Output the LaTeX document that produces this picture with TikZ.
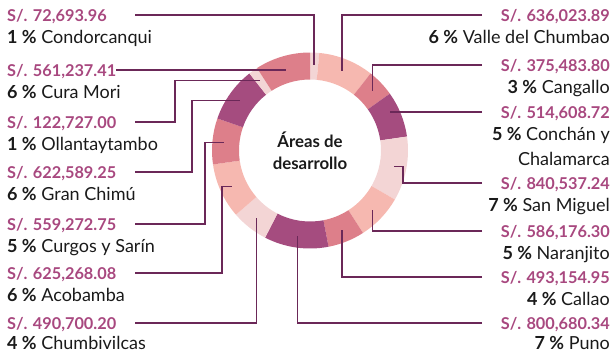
\documentclass[tikz,border=0pt]{standalone}
\usepackage{fontspec}
\setmainfont{Lato}
\usepackage{xcolor}
\usepackage{tikz}
\definecolor{ringA}{HTML}{F3D5D5}
\definecolor{ringB}{HTML}{F6B8B0}
\definecolor{ringC}{HTML}{DD7F8A}
\definecolor{ringD}{HTML}{A54C7F}
\definecolor{amt}{HTML}{A8487F}
\definecolor{leader}{HTML}{6B2858}
\definecolor{ink}{HTML}{1A1A1A}
\tikzset{
  lead/.style={draw=leader, line width=1.3bp},
  amount/.style={
    font=\fontsize{16.3bp}{19bp}\selectfont\bfseries,
    text=amt,
    inner sep=0pt,
    text height=12bp,
    text depth=0pt
  },
  place/.style={
    font=\fontsize{18bp}{21bp}\selectfont,
    text=ink,
    inner sep=0pt,
    text height=12.8bp,
    text depth=0pt
  },
  ttl/.style={
    font=\fontsize{16.8bp}{21.5bp}\selectfont\bfseries,
    text=ink,
    align=center
  }
}

\begin{document}
\begin{tikzpicture}[x=1bp, y=-1bp]
  \useasboundingbox (0,0) rectangle (614,353);

  % ring, one percent = 360/66 degrees, clockwise from the top
  \begin{scope}[shift={(310,150.5)}]
    \def\u{5.454545}
    \foreach \a/\b/\c/\n in {0/1/ringA/Con, 1/7/ringB/Val, 7/10/ringC/Can,
      10/15/ringD/Cha, 15/22/ringA/SMi, 22/27/ringB/Nar, 27/31/ringC/Cal,
      31/38/ringD/Pun, 38/42/ringA/Chu, 42/48/ringB/Aco, 48/53/ringC/Cur,
      53/59/ringD/Gra, 59/60/ringA/Oll, 60/66/ringC/Mor}{
      \pgfmathsetmacro\sa{\a*\u-90}
      \pgfmathsetmacro\ea{\b*\u-90}
      \pgfmathsetmacro\ma{(\a+\b)/2*\u-90}
      \fill[\c] (\sa:98) arc[start angle=\sa, end angle=\ea, radius=98]
        -- (\ea:71) arc[start angle=\ea, end angle=\sa, radius=71] -- cycle;
      \coordinate (p\n) at (\ma:86);
    }
    \node[ttl] (title) at (0,0) {Áreas de\\desarrollo};
  \end{scope}

  % labels on the left
  \foreach \y/\ny/\val/\pc/\name [count=\i] in {
    15/37.5/{72,693.96}/1/Condorcanqui,
    70/92.5/{561,237.41}/6/Cura Mori,
    122/144.5/{122,727.00}/1/Ollantaytambo,
    172/194.5/{622,589.25}/6/Gran Chimú,
    224/246.5/{559,272.75}/5/Curgos y Sarín,
    273/295.5/{625,268.08}/6/Acobamba,
    323/343.5/{490,700.20}/4/Chumbivilcas}{
    \node[amount, anchor=west] (lv\i) at (7,\y) {S/. \val};
    \node[place, anchor=west] (ln\i) at (7,\ny) {\textbf{\pc\ \%} \name};
  }

  % labels on the right
  \foreach \y/\ny/\val/\pc/\name [count=\i] in {
    15/37.5/{636,023.89}/6/Valle del Chumbao,
    65/87.5/{375,483.80}/3/Cangallo,
    112/134.5/{514,608.72}/5/Conchán y,
    183/205.5/{840,537.24}/7/San Miguel,
    231/253.5/{586,176.30}/5/Naranjito,
    277/299.5/{493,154.95}/4/Callao,
    323/343.5/{800,680.34}/7/Puno}{
    \node[amount, anchor=east] (rv\i) at (610,\y) {S/. \val};
    \node[place, anchor=east] (rn\i) at (610,\ny) {\textbf{\pc\ \%} \name};
  }
  \node[place, anchor=east] (rn3b) at (610,159.5) {Chalamarca};

  % leader lines
  \coordinate (lx) at (135,0);
  \coordinate (rx) at (482,0);
  \coordinate (bOll) at (175,0);
  \coordinate (bGra) at (192,0);
  \coordinate (bCur) at (205,0);
  \coordinate (bAco) at (222,0);
  \coordinate (bSMi) at (403,0);

  \draw[lead] (lv1 -| lx) -| (pCon);
  \draw[lead] (lv2.east) -- (lv2 -| pMor);
  \draw[lead] (lv3 -| lx) -| (bOll |- pOll) -- (pOll);
  \draw[lead] (lv4 -| lx) -| (bGra |- pGra) -- (pGra);
  \draw[lead] (lv5 -| lx) -| (bCur |- pCur) -- (pCur);
  \draw[lead] (lv6 -| lx) -| (bAco |- pAco) -- (pAco);
  \draw[lead] (lv7 -| lx) -| (pChu);

  \draw[lead] (rv1 -| rx) -| (pVal);
  \draw[lead] (rv2 -| rx) -| (pCan);
  \draw[lead] (rv3 -| rx) -- (rv3 -| pCha);
  \draw[lead] (rv4 -| rx) -| (bSMi |- pSMi) -- (pSMi);
  \draw[lead] (rv5 -| rx) -| (pNar);
  \draw[lead] (rv6 -| rx) -| (pCal);
  \draw[lead] (rv7 -| rx) -| (pPun);
\end{tikzpicture}
\end{document}
